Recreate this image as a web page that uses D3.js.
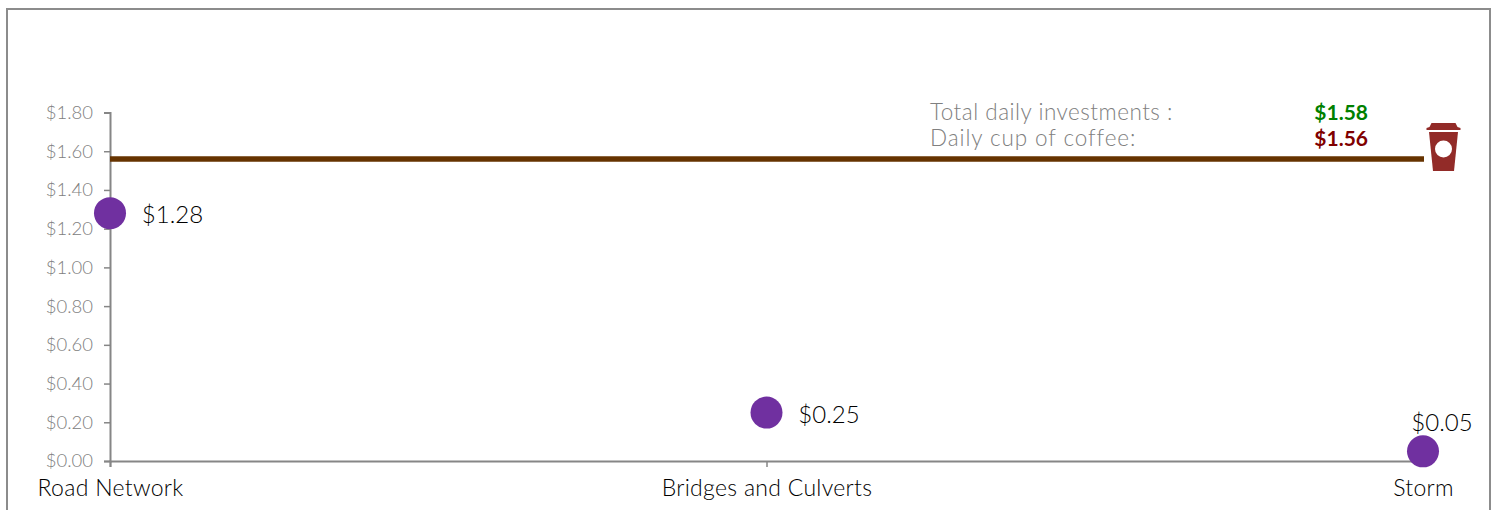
<!DOCTYPE html>
<html>
<head>
<meta charset="utf-8">
<script src="https://cdn.jsdelivr.net/npm/d3@7/dist/d3.min.js"></script>
<style>
  html, body { margin: 0; padding: 0; background: #fff; }
  svg { display: block; }
  text { font-family: "Lato", "Open Sans", sans-serif; }
</style>
</head>
<body>
<svg id="chart" width="1497" height="510"></svg>
<script>
// Daily cost per asset class, compared with a daily cup of coffee
const categories = ["Road Network", "Bridges and Culverts", "Storm"];
const dailyCost = [1.28, 0.25, 0.05];
const valueLabels = ["$1.28", "$0.25", "$0.05"];
const coffeeCost = 1.56;
const totalInvestment = 1.58;
const yTicks = [0, 0.2, 0.4, 0.6, 0.8, 1.0, 1.2, 1.4, 1.6, 1.8];
const summaryLabels = ["Total daily investments :", "Daily cup of coffee:"];

const svg = d3.select("#chart");
const money = d3.format("$.2f");

const x = d3.scalePoint().domain(categories).range([110, 1423]);
const y = d3.scaleLinear().domain([0, 1.8]).range([461, 112.5]);

// Outer frame, open at the bottom edge
svg.append("path")
  .attr("d", "M7,510V9H1490V510")
  .attr("fill", "none")
  .attr("stroke", "#8c8c8c")
  .attr("stroke-width", 2);

// Value axis
const yAxis = svg.append("g")
  .attr("transform", "translate(110,0)")
  .call(d3.axisLeft(y).tickValues(yTicks).tickFormat(money).tickSize(6).tickPadding(11));
yAxis.select(".domain").attr("stroke", "#868686").attr("stroke-width", 2);
yAxis.selectAll(".tick line").attr("stroke", "#868686").attr("stroke-width", 1.5);
yAxis.selectAll(".tick text")
  .attr("fill", "#808080")
  .style("font-size", "18.5px")
  .style("font-weight", 300)
  .style("font-family", "Lato");

// Category axis
const xAxis = svg.append("g")
  .attr("transform", `translate(0,${y(0)})`)
  .call(d3.axisBottom(x).tickSize(6).tickPadding(13));
xAxis.select(".domain").attr("stroke", "#868686").attr("stroke-width", 2);
xAxis.selectAll(".tick line").attr("stroke", "#868686").attr("stroke-width", 1.5);
xAxis.selectAll(".tick text")
  .attr("fill", "#000")
  .style("font-size", "23px")
  .style("font-weight", 300)
  .style("letter-spacing", "0.3px")
  .style("font-family", "Lato");

// Coffee reference line
svg.append("line")
  .attr("x1", x(categories[0]))
  .attr("x2", x(categories[2]) + 1)
  .attr("y1", y(coffeeCost))
  .attr("y2", y(coffeeCost))
  .attr("stroke", "#663300")
  .attr("stroke-width", 5.5);

// Cost markers
svg.selectAll("circle.cost")
  .data(dailyCost)
  .join("circle")
  .attr("class", "cost")
  .attr("cx", (d, i) => x(categories[i]))
  .attr("cy", d => y(d))
  .attr("r", 16)
  .attr("fill", "#7030a0");

// Marker labels: beside the first two, above the last
svg.selectAll("text.cost-label")
  .data(dailyCost)
  .join("text")
  .attr("class", "cost-label")
  .attr("x", (d, i) => x(categories[i]) + (i === 2 ? 19 : 62.5))
  .attr("y", (d, i) => y(d) + (i === 2 ? -20 : 10))
  .attr("text-anchor", "middle")
  .attr("fill", "#000")
  .style("font-size", "24px")
  .style("font-weight", 300)
  .text((d, i) => valueLabels[i]);

// Summary block above the reference line
const summaryValues = [
  { value: totalInvestment, fill: "#008000" },
  { value: coffeeCost, fill: "#800000" }
];
const summarySpacing = ["0.5px", "0.9px"];
summaryLabels.forEach((label, i) => {
  const baseline = 120 + i * 26;
  svg.append("text")
    .attr("x", 930).attr("y", baseline)
    .attr("fill", "#808080")
    .style("font-size", "22.5px")
    .style("font-weight", 300)
    .style("letter-spacing", summarySpacing[i])
    .text(label);
  svg.append("text")
    .attr("x", 1368).attr("y", baseline)
    .attr("text-anchor", "end")
    .attr("fill", summaryValues[i].fill)
    .style("font-size", "21px")
    .style("font-weight", 700)
    .text(money(summaryValues[i].value));
});

// Coffee cup icon at the end of the line: lid, body, round logo
const cup = svg.append("g").attr("transform", `translate(1443.5,${y(coffeeCost)})`);
cup.append("path")
  .attr("d", "M-14,-32L-12,-36H12L14,-32L17,-31V-29H-17V-31Z")
  .attr("fill", "#922b28");
cup.append("path")
  .attr("d", "M-14.5,-27H14.5L10.5,12H-10.5Z")
  .attr("fill", "#922b28");
cup.append("circle")
  .attr("cx", 0).attr("cy", -10).attr("r", 8.5)
  .attr("fill", "#fff");
</script>
</body>
</html>
